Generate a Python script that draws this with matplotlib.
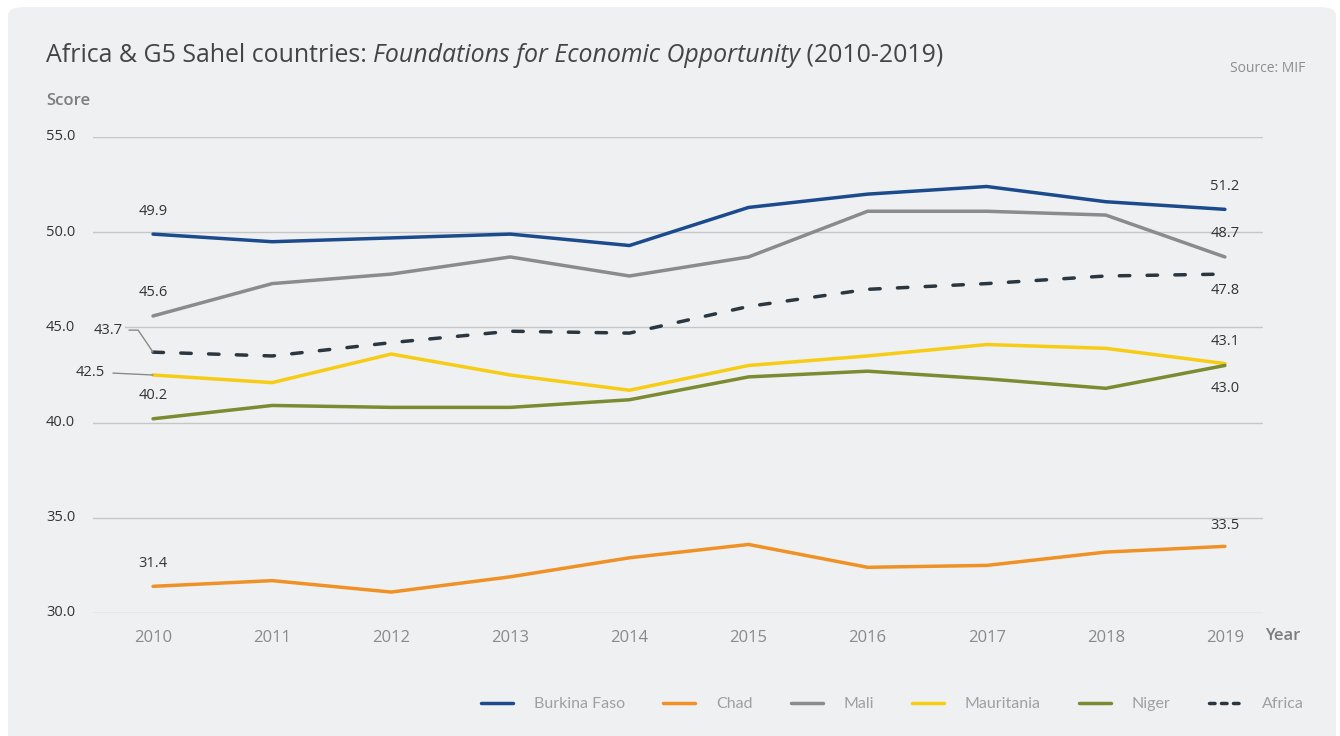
import matplotlib
matplotlib.use("Agg")
import matplotlib.pyplot as plt
from matplotlib.patches import FancyBboxPatch
from matplotlib.lines import Line2D

plt.rcParams['font.family'] = ['Open Sans', 'DejaVu Sans']

years = [2010, 2011, 2012, 2013, 2014, 2015, 2016, 2017, 2018, 2019]
burkina_faso = [49.9, 49.5, 49.7, 49.9, 49.3, 51.3, 52.0, 52.4, 51.6, 51.2]
chad = [31.4, 31.7, 31.1, 31.9, 32.9, 33.6, 32.4, 32.5, 33.2, 33.5]
mali = [45.6, 47.3, 47.8, 48.7, 47.7, 48.7, 51.1, 51.1, 50.9, 48.7]
mauritania = [42.5, 42.1, 43.6, 42.5, 41.7, 43.0, 43.5, 44.1, 43.9, 43.1]
niger = [40.2, 40.9, 40.8, 40.8, 41.2, 42.4, 42.7, 42.3, 41.8, 43.0]
africa = [43.7, 43.5, 44.2, 44.8, 44.7, 46.1, 47.0, 47.3, 47.7, 47.8]
y_ticks = [30.0, 35.0, 40.0, 45.0, 50.0, 55.0]

BG = "#eff0f2"
LW = 2.5
series = [
    ("Burkina Faso", burkina_faso, "#1b4b8c", "-"),
    ("Chad", chad, "#ef9124", "-"),
    ("Mali", mali, "#8b8b8d", "-"),
    ("Mauritania", mauritania, "#f6cd14", "-"),
    ("Niger", niger, "#7c8a31", "-"),
    ("Africa", africa, "#2b3740", (0, (3.0, 5.0))),
]

fig = plt.figure(figsize=(13.4, 7.36), dpi=100)
fig.patch.set_facecolor("white")
panel = FancyBboxPatch((8 / 1340, -0.05), 1328 / 1340, 1.05 - 7 / 736,
                       boxstyle="round,pad=0,rounding_size=0.012",
                       transform=fig.transFigure, facecolor=BG,
                       edgecolor="none", zorder=-1)
fig.patches.append(panel)

ax = fig.add_axes([93 / 1340, 1 - 613 / 736, 1170 / 1340, 476 / 736])
ax.set_facecolor("none")
for s in ax.spines.values():
    s.set_visible(False)

for name, vals, col, ls in series:
    ax.plot(years, vals, color=col, lw=LW, ls=ls, label=name,
            solid_capstyle="round", dash_capstyle="round", zorder=3)

ax.set_xlim(2009.496, 2019.32)
ax.set_ylim(30, 55)
ax.set_yticks(y_ticks)
ax.set_yticklabels([])
ax.set_xticks(years)
ax.set_xticklabels([str(y) for y in years], fontsize=12, color="#8a8a8a")
ax.tick_params(axis="both", length=0, pad=12)
ax.grid(axis="y", color="#c6c6c8", lw=1)
ax.set_axisbelow(True)

# y labels sit flush left, away from the gridlines
for t in y_ticks:
    ax.annotate(f"{t:.1f}", xy=(46 / 1340, t), xycoords=("figure fraction", "data"),
                fontsize=10.5, color="#333333", va="center", ha="left")

fig.text(1265 / 1340, 1 - 636 / 736, "Year", fontsize=12, color="#7d7d7d",
         fontweight="semibold", va="center", ha="left")
fig.text(46 / 1340, 1 - 101 / 736, "Score", fontsize=12, color="#7d7d7d",
         fontweight="semibold", va="center", ha="left")
fig.text(1305 / 1340, 1 - 69 / 736, "Source: MIF", fontsize=10, color="#8d8d8d",
         va="center", ha="right")

# title with an italic middle part
TITLE_SIZE = 17.9
t1 = fig.text(46 / 1340, 1 - 62 / 736, "Africa & G5 Sahel countries: ",
              fontsize=TITLE_SIZE, color="#444444", va="baseline", ha="left")
t2 = fig.text(0, 0, "Foundations for Economic Opportunity", fontsize=TITLE_SIZE,
              color="#444444", style="italic", va="baseline", ha="left")
t3 = fig.text(0, 0, " (2010-2019)", fontsize=TITLE_SIZE, color="#444444",
              va="baseline", ha="left")
fig.canvas.draw()
r = fig.canvas.get_renderer()
x = t1.get_window_extent(r).x1 / fig.bbox.width
t2.set_position((x, t1.get_position()[1]))
x = t2.get_window_extent(r).x1 / fig.bbox.width
t3.set_position((x, t1.get_position()[1]))

lab_kw = dict(fontsize=10.5, color="#333333", ha="center", va="center",
              textcoords="offset pixels")
# start-year labels
for vals in (burkina_faso, mali, niger, chad):
    ax.annotate(f"{vals[0]:.1f}", xy=(years[0], vals[0]), xytext=(0, 23), **lab_kw)
ax.annotate(f"{africa[0]:.1f}", xy=(years[0], africa[0]), xytext=(-45, 22),
            bbox=dict(boxstyle="square,pad=0.15", fc=BG, ec="none"),
            arrowprops=dict(arrowstyle="-", color="#8a8a8a", lw=1,
                            connectionstyle="angle,angleA=0,angleB=124,rad=0",
                            shrinkA=3, shrinkB=0), **lab_kw)
ax.annotate(f"{mauritania[0]:.1f}", xy=(years[0], mauritania[0]), xytext=(-63, 3),
            arrowprops=dict(arrowstyle="-", color="#8a8a8a", lw=1,
                            shrinkA=4, shrinkB=0), **lab_kw)

# end-year labels
end_offsets = [(burkina_faso, 23), (mali, 23), (africa, -16),
               (mauritania, 22), (niger, -23), (chad, 21)]
for vals, dy in end_offsets:
    ax.annotate(f"{vals[-1]:.1f}", xy=(years[-1], vals[-1]), xytext=(0, dy), **lab_kw)

handles = [Line2D([], [], color=col, lw=LW,
                  ls=(0, (1.6, 1.85)) if name == "Africa" else "-",
                  solid_capstyle="round", dash_capstyle="round")
           for name, vals, col, ls in series]
leg = fig.legend(handles, [s[0] for s in series], loc="center right",
                 bbox_to_anchor=(1318 / 1340, 1 - 704 / 736),
                 ncol=6, frameon=False, handlelength=2.0,
                 columnspacing=2.4, handletextpad=1.3, labelcolor="#a0a0a0",
                 prop={"family": ["Lato", "DejaVu Sans"], "size": 11.5})

fig.savefig("out.png", dpi=100, facecolor=fig.get_facecolor())
